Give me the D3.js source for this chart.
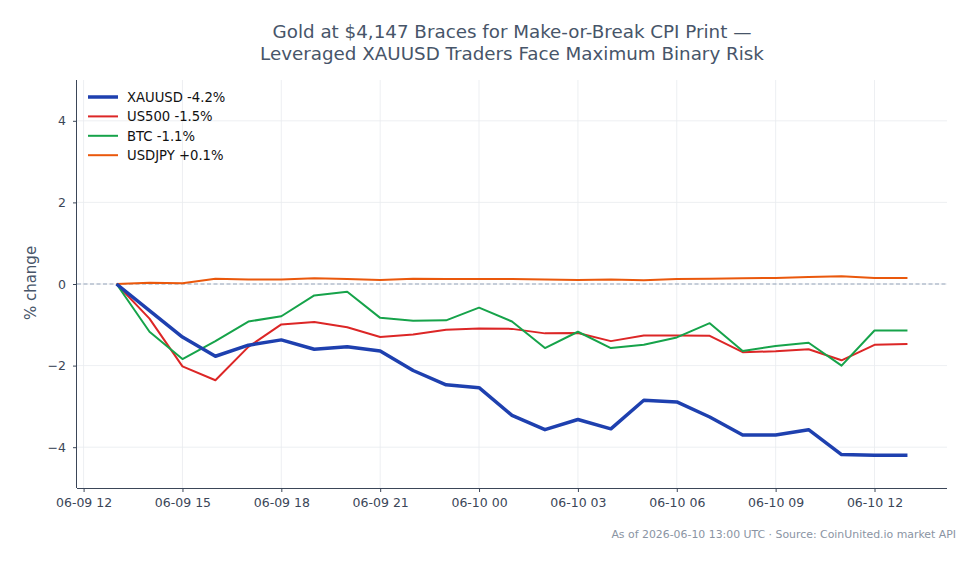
<!DOCTYPE html>
<html>
<head>
  <script src="https://d3js.org/d3.v7.min.js"></script>
  <style>
    html, body { margin: 0; padding: 0; background: #fff; }
    svg { display: block; font-family: "DejaVu Sans", sans-serif; }
    .axis text { font-family: "DejaVu Sans", sans-serif; font-size: 12.5px; fill: #3b4658; }
    .axis path, .axis line { stroke: #3b4658; }
    .grid line { stroke: #e8ebef; stroke-width: 0.8; }
  </style>
</head>
<body>
  <div id="chart"></div>
  <script>
    // hourly closes, % change from 06-09 13:00 UTC
    const startHour = new Date(Date.UTC(2026, 5, 9, 13));
    const xauusd = [0, -0.65, -1.30, -1.77, -1.50, -1.37, -1.60, -1.54, -1.64, -2.12, -2.47, -2.54,
                    -3.22, -3.57, -3.32, -3.55, -2.85, -2.89, -3.26, -3.70, -3.70, -3.57, -4.18, -4.20, -4.20];
    const us500 = [0, -0.85, -2.02, -2.36, -1.54, -0.99, -0.93, -1.06, -1.30, -1.24, -1.12, -1.09,
                   -1.10, -1.21, -1.20, -1.40, -1.26, -1.26, -1.27, -1.67, -1.65, -1.60, -1.87, -1.49, -1.47];
    const btc = [0, -1.17, -1.84, -1.40, -0.92, -0.79, -0.28, -0.19, -0.83, -0.90, -0.89, -0.58,
                 -0.92, -1.57, -1.17, -1.57, -1.49, -1.31, -0.96, -1.64, -1.52, -1.44, -2.00, -1.14, -1.14];
    const usdjpy = [0, 0.03, 0.02, 0.13, 0.11, 0.11, 0.14, 0.12, 0.10, 0.13, 0.12, 0.12,
                    0.12, 0.11, 0.10, 0.11, 0.09, 0.12, 0.13, 0.14, 0.15, 0.17, 0.19, 0.15, 0.15];

    const seriesNames = ["XAUUSD -4.2%", "US500 -1.5%", "BTC -1.1%", "USDJPY +0.1%"];
    const seriesColors = ["#1e40af", "#dc2626", "#16a34a", "#ea580c"];
    const seriesWidths = [3.5, 2, 2, 2];
    const yTicks = [-4, -2, 0, 2, 4];

    const titleLines = ["Gold at $4,147 Braces for Make-or-Break CPI Print \u2014",
                        "Leveraged XAUUSD Traders Face Maximum Binary Risk"];
    const footnote = "As of 2026-06-10 13:00 UTC \u00b7 Source: CoinUnited.io market API";

    const width = 979, height = 564;
    const margin = {top: 80, left: 77, right: 32, bottom: 76};

    const svg = d3.select("#chart").append("svg")
      .attr("width", width)
      .attr("height", height);

    const times = xauusd.map((d, i) => new Date(startHour.getTime() + i * 3600e3));
    const pad = 1.2 * 3600e3;

    const xScale = d3.scaleUtc()
      .domain([new Date(times[0].getTime() - pad), new Date(times[times.length - 1].getTime() + pad)])
      .range([margin.left, width - margin.right]);

    const yScale = d3.scaleLinear()
      .domain([-5, 5])
      .range([height - margin.bottom, margin.top]);

    const xTicks = d3.range(0, 9).map(i => new Date(Date.UTC(2026, 5, 9, 12 + i * 3)));
    const fmt = d3.utcFormat("%m-%d %H");

    // grid
    svg.append("g").attr("class", "grid")
      .selectAll("line").data(xTicks).join("line")
        .attr("x1", d => xScale(d)).attr("x2", d => xScale(d))
        .attr("y1", margin.top).attr("y2", height - margin.bottom);
    svg.append("g").attr("class", "grid")
      .selectAll("line").data(yTicks).join("line")
        .attr("x1", margin.left).attr("x2", width - margin.right)
        .attr("y1", d => yScale(d)).attr("y2", d => yScale(d));

    // zero reference
    svg.append("line")
      .attr("x1", margin.left).attr("x2", width - margin.right)
      .attr("y1", yScale(0)).attr("y2", yScale(0))
      .attr("stroke", "#94a3b8").attr("stroke-width", 1)
      .attr("stroke-dasharray", "4,2.5");

    // axes
    const xAxis = svg.append("g")
      .attr("class", "axis")
      .attr("transform", `translate(0,${height - margin.bottom})`)
      .call(d3.axisBottom(xScale).tickValues(xTicks).tickFormat(fmt).tickSize(4).tickPadding(6));
    xAxis.select(".domain").attr("d", `M${margin.left},0.5H${width - margin.right}`);

    const yAxis = svg.append("g")
      .attr("class", "axis")
      .attr("transform", `translate(${margin.left},0)`)
      .call(d3.axisLeft(yScale).tickValues(yTicks).tickFormat(d => d < 0 ? "\u2212" + Math.abs(d) : d).tickSize(4).tickPadding(7));
    yAxis.select(".domain").attr("d", `M-0.5,${margin.top}V${height - margin.bottom}`);

    // lines
    const allSeries = [xauusd, us500, btc, usdjpy];
    const line = d3.line()
      .x((d, i) => xScale(times[i]))
      .y(d => yScale(d));

    // draw thinner ones first, gold on top
    [1, 2, 3, 0].forEach(k => {
      svg.append("path")
        .datum(allSeries[k])
        .attr("fill", "none")
        .attr("stroke", seriesColors[k])
        .attr("stroke-width", seriesWidths[k])
        .attr("stroke-linejoin", "round")
        .attr("d", line);
    });

    // legend
    const legend = svg.append("g").attr("transform", `translate(88,97)`);
    seriesNames.forEach((name, i) => {
      const g = legend.append("g").attr("transform", `translate(0,${i * 19.4})`);
      g.append("line")
        .attr("x1", 0).attr("x2", 30)
        .attr("stroke", seriesColors[i])
        .attr("stroke-width", seriesWidths[i]);
      g.append("text")
        .attr("x", 39).attr("y", 4.8)
        .attr("font-size", 13.2)
        .attr("fill", "#111")
        .text(name);
    });

    // labels
    svg.append("text")
      .attr("x", -yScale(0) + 1)
      .attr("y", 36)
      .attr("transform", "rotate(-90)")
      .attr("text-anchor", "middle")
      .attr("font-size", 15)
      .attr("fill", "#475569")
      .text("% change");

    const title = svg.append("text")
      .attr("text-anchor", "middle")
      .attr("font-size", 18.3)
      .attr("fill", "#475569");
    titleLines.forEach((t, i) => {
      title.append("tspan")
        .attr("x", (margin.left + width - margin.right) / 2)
        .attr("y", 38 + i * 21.5)
        .text(t);
    });

    svg.append("text")
      .attr("x", 956)
      .attr("y", 538)
      .attr("text-anchor", "end")
      .attr("font-size", 10.9)
      .attr("fill", "#8a94a3")
      .text(footnote);
  </script>
</body>
</html>
